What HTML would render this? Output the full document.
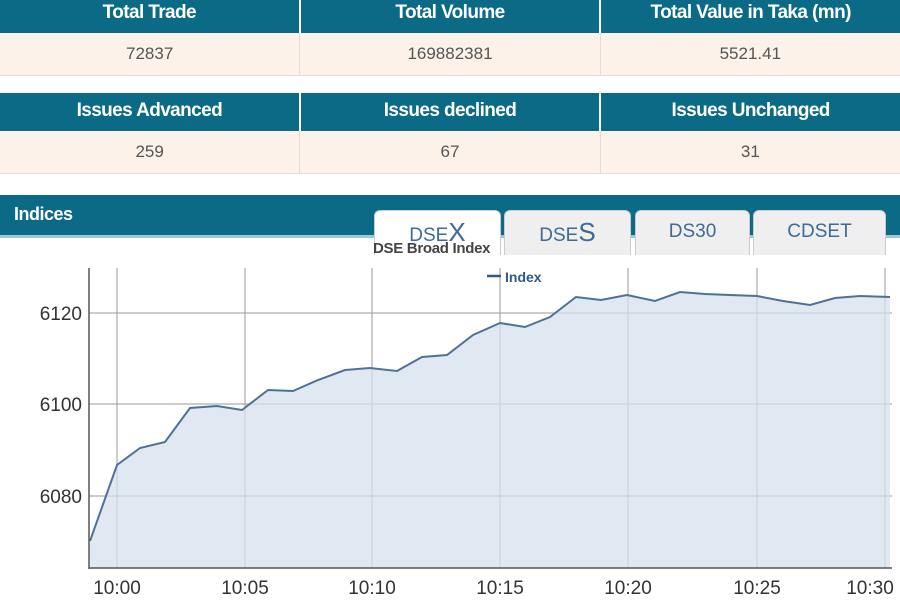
<!DOCTYPE html><html><head><style>
body{margin:0;width:900px;height:600px;overflow:hidden;background:#fff;font-family:"Liberation Sans",sans-serif;position:relative}
.h,.d{position:absolute;left:0;width:900px;display:flex}
.h{background:#0b6a85;color:#fff;font-weight:bold;font-size:19px;letter-spacing:-0.6px}
.d{background:#fcf2e9;color:#555;font-size:17px;border-bottom:1px solid #e4ddd6}
.h div,.d div{flex:1;text-align:center;border-right:2px solid #fff}
.d div{border-right:1px solid #e2dcd6}
.tab{position:absolute;top:210px;height:44px;background:#efefef;border:1px solid #ccc;border-bottom:0;border-radius:6px 6px 0 0;color:#3f6a96;font-size:19px;text-align:center;line-height:42px}
</style></head><body>
<div class="h" style="top:0;height:33px;line-height:26px"><div>Total Trade</div><div>Total Volume</div><div style="border:0">Total Value in Taka (mn)</div></div>
<div class="d" style="top:33px;height:42px;line-height:42px"><div>72837</div><div>169882381</div><div style="border:0">5521.41</div></div>
<div class="h" style="top:93px;height:38px;line-height:36px"><div>Issues Advanced</div><div>Issues declined</div><div style="border:0">Issues Unchanged</div></div>
<div class="d" style="top:131px;height:42px;line-height:42px"><div>259</div><div>67</div><div style="border:0">31</div></div>
<div style="position:absolute;top:195px;left:0;width:900px;height:40px;background:#0b6a85;border-bottom:3px solid #9fc7d3"></div>
<div style="position:absolute;top:204px;left:14px;color:#fff;font-weight:bold;font-size:18px;letter-spacing:-0.5px">Indices</div>
<div class="tab" style="left:374px;width:125px;background:#fff">DSE<span style="font-size:26px">X</span></div>
<div class="tab" style="left:504px;width:125px">DSE<span style="font-size:26px">S</span></div>
<div class="tab" style="left:635px;width:113px">DS30</div>
<div class="tab" style="left:753px;width:131px">CDSET</div>
<div style="position:absolute;top:240px;left:373px;font-size:15px;font-weight:bold;color:#444;letter-spacing:-0.3px">DSE Broad Index</div>
<svg style="position:absolute;left:0;top:0" width="900" height="600">
<g stroke="#999" stroke-width="1">
<line x1="117" y1="268" x2="117" y2="568"/><line x1="245" y1="268" x2="245" y2="568"/><line x1="372" y1="268" x2="372" y2="568"/><line x1="500" y1="268" x2="500" y2="568"/><line x1="628" y1="268" x2="628" y2="568"/><line x1="757" y1="268" x2="757" y2="568"/><line x1="885" y1="268" x2="885" y2="568"/>
<line x1="89" y1="313" x2="892" y2="313"/><line x1="89" y1="404" x2="892" y2="404"/><line x1="89" y1="496" x2="892" y2="496"/>
</g>
<polygon fill="#d6e1ee" fill-opacity="0.75" stroke="none" points="90,568 90,541 117,465 140,448 165,442 190,408 217,406 242,410 268,390 293,391 318,380 345,370 370,368 397,371 422,357 447,355 473,335 500,323 525,327 550,317 576,297 601,300 627,295 655,301 680,292 705,294 730,295 757,296 783,301 810,305 835,298 860,296 890,297 890,568"/>
<polyline fill="none" stroke="#4f7198" stroke-width="2" points="90,541 117,465 140,448 165,442 190,408 217,406 242,410 268,390 293,391 318,380 345,370 370,368 397,371 422,357 447,355 473,335 500,323 525,327 550,317 576,297 601,300 627,295 655,301 680,292 705,294 730,295 757,296 783,301 810,305 835,298 860,296 890,297"/>
<line x1="89" y1="268" x2="89" y2="569" stroke="#555" stroke-width="1.5"/>
<line x1="89" y1="568" x2="892" y2="568" stroke="#555" stroke-width="1.5"/>
<line x1="487" y1="276" x2="501" y2="276" stroke="#2f5a8a" stroke-width="2.5"/>
<text x="505" y="282" font-size="14" font-weight="bold" fill="#2f5a8a" font-family="Liberation Sans">Index</text>
<g font-size="19" fill="#333" font-family="Liberation Sans" text-anchor="end">
<text x="82" y="320">6120</text><text x="82" y="411">6100</text><text x="82" y="503">6080</text></g>
<g font-size="19" fill="#333" font-family="Liberation Sans" text-anchor="middle">
<text x="117" y="594">10:00</text><text x="245" y="594">10:05</text><text x="372" y="594">10:10</text><text x="500" y="594">10:15</text><text x="628" y="594">10:20</text><text x="757" y="594">10:25</text><text x="870" y="594">10:30</text></g>
</svg>
</body></html>
